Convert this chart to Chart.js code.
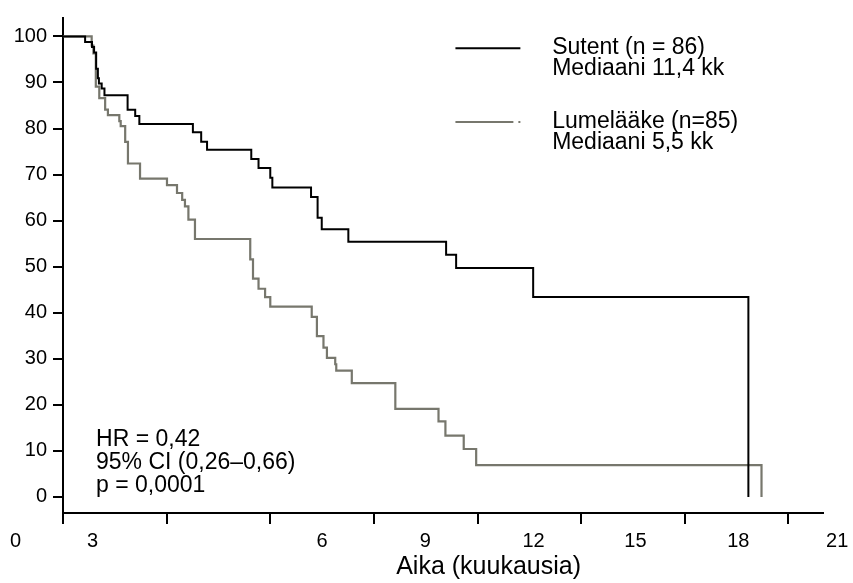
<!DOCTYPE html>
<html>
<head>
<meta charset="utf-8">
<script src="https://cdn.jsdelivr.net/npm/chart.js@4.4.1/dist/chart.umd.min.js"></script>
<style>
  html, body { margin: 0; padding: 0; background: #fff; }
  #wrap { width: 853px; height: 583px; }
</style>
</head>
<body>
<div id="wrap"><canvas id="grafico" width="853" height="583"></canvas></div>
<script>
// Kaplan-Meier, aika kuukausina ja osuus prosentteina
const sutentAika = [0, 0.64, 0.84, 0.90, 0.96, 1.01, 1.04, 1.12, 1.20, 1.87, 2.09, 2.21, 3.76, 4.00, 4.17, 5.45, 5.66, 6.00, 6.06, 7.18, 7.37, 7.49, 8.26, 11.09, 11.38, 13.61, 19.84];
const sutentOsuus = [100, 98.8, 97.7, 96.5, 93.0, 90.9, 89.8, 88.7, 87.2, 84.1, 82.7, 81.0, 79.2, 77.1, 75.4, 73.4, 71.4, 69.3, 67.2, 65.1, 60.6, 58.1, 55.4, 52.6, 49.7, 43.4, 0];

const lumeAika = [0, 0.83, 0.88, 0.95, 1.05, 1.22, 1.30, 1.63, 1.67, 1.80, 1.88, 2.23, 3.01, 3.30, 3.45, 3.53, 3.63, 3.82, 5.42, 5.50, 5.66, 5.85, 6.00, 7.20, 7.35, 7.54, 7.64, 7.88, 7.91, 8.36, 9.62, 10.87, 11.07, 11.60, 11.96, 20.22];
const lumeOsuus = [100, 98.0, 96.3, 89.1, 86.6, 84.1, 82.9, 81.6, 80.5, 77.1, 72.4, 69.1, 67.7, 66.0, 64.5, 63.1, 60.2, 56.0, 51.6, 47.4, 45.2, 43.4, 41.3, 39.1, 34.9, 32.4, 30.2, 28.8, 27.4, 24.7, 19.1, 16.4, 13.3, 10.4, 6.9, 0];

const sarjaNimet = [
    ['Sutent (n = 86)', 'Mediaani 11,4 kk'],
    ['Lumelääke (n=85)', 'Mediaani 5,5 kk']
];
const tilasto = ['HR = 0,42', '95% CI (0,26–0,66)', 'p = 0,0001'];

const xTicks = [0, 3, 6, 9, 12, 15, 18, 21];
const xTickLabels = ['0', '3', '6', '9', '12', '15', '18', '21'];
const yTicks = [0, 10, 20, 30, 40, 50, 60, 70, 80, 90, 100];
const xOtsikko = 'Aika (kuukausia)';

// kuvan asettelu (akselin yksiköissä)
const xLabelPaikat = [-1.37, 0.855, 7.5, 10.49, 13.62, 16.57, 19.55, 22.41];
const seliteViivaY = [97.45, 81.4];

const fontti = '"Liberation Sans", Arial, sans-serif';
const harmaa = '#77776d';

const tekstit = {
    id: 'tekstit',
    afterDraw(chart) {
        const { ctx, scales: { x, y } } = chart;
        ctx.save();
        ctx.fillStyle = '#000';
        ctx.textBaseline = 'alphabetic';

        // x-akselin numerot
        ctx.font = '20px ' + fontti;
        ctx.textAlign = 'center';
        xTickLabels.forEach((t, i) => {
            ctx.fillText(t, x.getPixelForValue(xLabelPaikat[i]), x.top + 34);
        });

        // akselin nimi
        ctx.font = '25px ' + fontti;
        ctx.fillText(xOtsikko, x.left + x.width * 0.56, x.top + 61);

        // selite
        ctx.textAlign = 'left';
        ctx.font = '23px ' + fontti;
        const x1 = x.getPixelForValue(11.36);
        const x2 = x.getPixelForValue(13.24);
        const xt = x.getPixelForValue(14.16);
        chart.data.datasets.forEach((ds, i) => {
            const ly = y.getPixelForValue(seliteViivaY[i]);
            ctx.strokeStyle = ds.borderColor;
            ctx.lineWidth = 2;
            ctx.beginPath();
            if (i === 1) {
                ctx.moveTo(x1, ly);
                ctx.lineTo(x2 - 7, ly);
                ctx.moveTo(x2 - 2, ly);
                ctx.lineTo(x2, ly);
            } else {
                ctx.moveTo(x1, ly);
                ctx.lineTo(x2, ly);
            }
            ctx.stroke();
            sarjaNimet[i].forEach((rivi, j) => {
                ctx.fillText(rivi, xt, ly + 6 + j * 21);
            });
        });

        // HR ja luottamusväli
        const ax = x.getPixelForValue(0.956);
        const ay = y.getPixelForValue(11);
        tilasto.forEach((rivi, j) => ctx.fillText(rivi, ax, ay + j * 23));

        ctx.restore();
    }
};

const ctx = document.getElementById('grafico').getContext('2d');
new Chart(ctx, {
    type: 'line',
    data: {
        datasets: [{
            label: sarjaNimet[0].join(' '),
            data: sutentAika.map((t, i) => ({ x: t, y: sutentOsuus[i] })),
            borderColor: '#000000',
            borderWidth: 2,
            stepped: 'before',
            pointRadius: 0,
            fill: false
        }, {
            label: sarjaNimet[1].join(' '),
            data: lumeAika.map((t, i) => ({ x: t, y: lumeOsuus[i] })),
            borderColor: harmaa,
            borderWidth: 2.2,
            stepped: 'before',
            pointRadius: 0,
            fill: false
        }]
    },
    options: {
        responsive: false,
        animation: false,
        layout: { padding: { top: 10, right: 30, left: 0, bottom: 0 } },
        plugins: {
            legend: { display: false },
            tooltip: { enabled: false }
        },
        scales: {
            x: {
                type: 'linear',
                min: 0,
                max: 22,
                afterBuildTicks: s => { s.ticks = xTicks.map(v => ({ value: v })); },
                afterFit: s => { s.height = 70; },
                ticks: { display: false },
                grid: { drawOnChartArea: false, drawTicks: true, tickLength: 11, color: '#000', lineWidth: 2 },
                border: { color: '#000', width: 2 }
            },
            y: {
                type: 'linear',
                min: -3.5,
                max: 104,
                afterBuildTicks: s => { s.ticks = yTicks.map(v => ({ value: v })); },
                afterFit: s => { s.width = 63; },
                ticks: { color: '#000', padding: 6, font: { family: fontti, size: 20 } },
                grid: { drawOnChartArea: false, drawTicks: true, tickLength: 10, color: '#000', lineWidth: 2 },
                border: { color: '#000', width: 2 }
            }
        }
    },
    plugins: [tekstit]
});
</script>
</body>
</html>
